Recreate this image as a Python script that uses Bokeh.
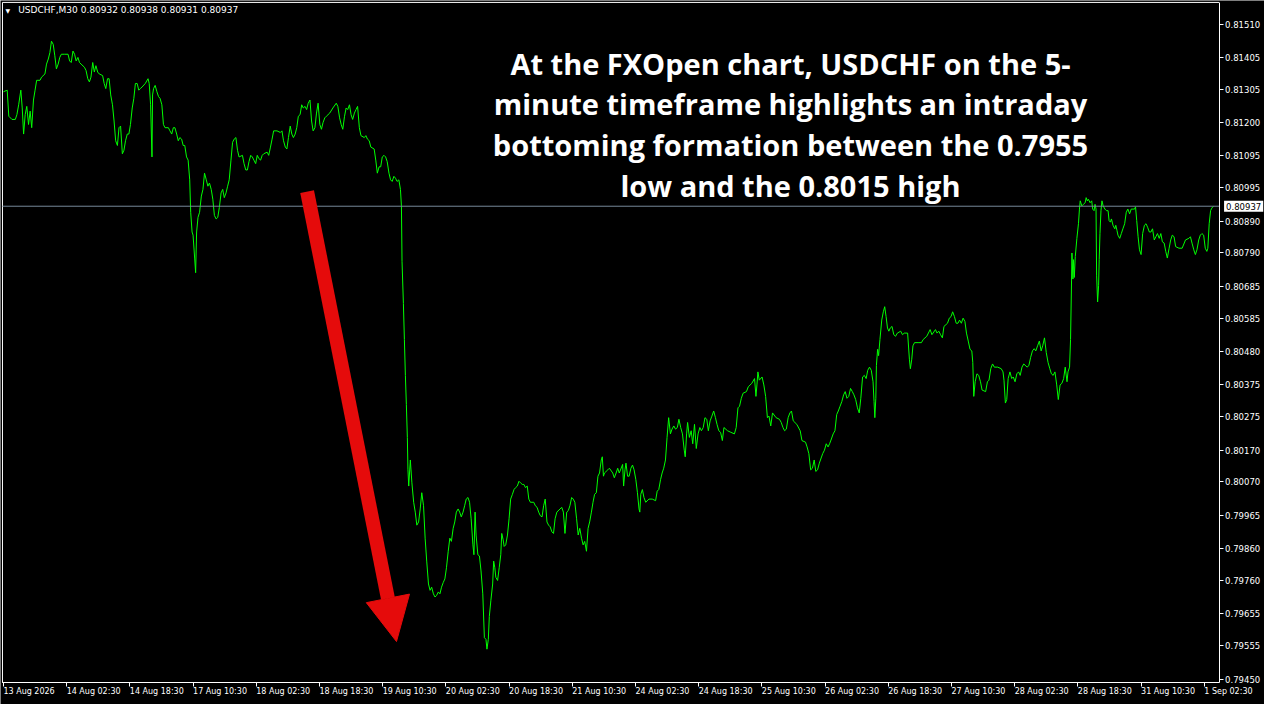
from bokeh.plotting import figure
from bokeh.models import Range1d, FixedTicker, Label, Arrow, NormalHead, ColumnDataSource, PrintfTickFormatter, LinearAxis
from bokeh.embed import file_html
from bokeh.resources import INLINE

# ---------------- data ----------------
symbol_header = "USDCHF,M30  0.80932 0.80938 0.80931 0.80937"
last_price = 0.80937

time_labels = ["13 Aug 2026", "14 Aug 02:30", "14 Aug 18:30", "17 Aug 10:30", "18 Aug 02:30",
               "18 Aug 18:30", "19 Aug 10:30", "20 Aug 02:30", "20 Aug 18:30", "21 Aug 10:30",
               "24 Aug 02:30", "24 Aug 18:30", "25 Aug 10:30", "26 Aug 02:30", "26 Aug 18:30",
               "27 Aug 10:30", "28 Aug 02:30", "28 Aug 18:30", "31 Aug 10:30", "1 Sep 02:30"]
bars_per_label = 32

price_ticks = [0.79450, 0.79555, 0.79655, 0.79760, 0.79860, 0.79965, 0.80070, 0.80170, 0.80275,
               0.80375, 0.80480, 0.80585, 0.80685, 0.80790, 0.80890, 0.80995, 0.81095, 0.81200,
               0.81305, 0.81405, 0.81510]

# bar position (M30 bars from the left edge) and close price
bar_pos = [
    0, 1.9, 2.7, 4.3, 6, 6.8, 7.7, 8.8, 9.5, 10.2,
    11, 11.8, 12.7, 13.5, 14.3, 15.2, 16, 16.8, 18.5, 19.3,
    21, 21.8, 22.7, 23.5, 24.3, 25.2, 26, 26.8, 27.7, 28.5,
    29.3, 31, 32.7, 33.5, 34.3, 35.2, 36, 36.8, 37.7, 38.5,
    39.3, 41, 41.8, 42.7, 43.5, 44.3, 45.2, 46, 46.8, 47.7,
    48.5, 50.2, 51, 51.8, 52.7, 53.5, 54.3, 55.2, 56, 56.8,
    57.7, 58.5, 59.3, 60.2, 61, 61.8, 62.7, 63.5, 64.3, 65.2,
    66, 66.8, 67.7, 68.5, 69.3, 70.2, 71.8, 73.2, 73.8, 74.5,
    75.2, 75.5, 76, 76.8, 77.7, 78.5, 79.3, 80.2, 81, 81.8,
    83.5, 84.3, 85.2, 86, 86.8, 87.7, 88.5, 89.3, 90.2, 91,
    91.8, 92.7, 93.5, 94.3, 94.8, 95.5, 96, 96.8, 97.3, 97.8,
    98.5, 99.3, 100.2, 101, 101.8, 102.7, 103.5, 104.3, 105.2, 106,
    106.8, 107.7, 108.5, 109.3, 110.2, 111, 111.8, 112.7, 113.5, 114.3,
    115.2, 116, 116.8, 117.7, 118.5, 119.3, 121, 121.8, 122.7, 123.5,
    124.3, 125.2, 126, 126.8, 127.7, 128.5, 129.3, 130.2, 131, 131.8,
    133.5, 134.3, 135.2, 136, 136.8, 138.5, 140.2, 141, 141.8, 142.7,
    143.5, 144.3, 145.2, 146, 146.8, 147.7, 148.5, 149.3, 150.2, 151,
    151.8, 152.7, 153.5, 154.3, 155.2, 156, 156.8, 157.7, 158.5, 159.3,
    160.2, 161, 161.8, 162.7, 163.5, 165.2, 166.8, 168.5, 169.3, 170.2,
    171, 171.8, 172.7, 173.5, 174.3, 175.2, 176, 176.8, 177.7, 178.5,
    179.3, 180.2, 181, 182.7, 183.5, 184.3, 185.2, 186, 187.7, 188.5,
    189.3, 190.2, 191, 191.8, 192.7, 193.5, 194.3, 195.2, 196, 196.8,
    197.7, 198.5, 199.3, 200.2, 201, 201.5, 201.8, 202.5, 203, 203.5,
    204, 204.5, 204.8, 205.2, 206, 206.8, 207.7, 208.5, 209.3, 210.2,
    211, 211.8, 212.7, 213.5, 214.3, 215.2, 216, 216.8, 217.7, 218.5,
    219.3, 220.2, 221, 221.8, 222.7, 223.5, 224.3, 225.2, 226, 226.8,
    227.7, 228.5, 229.3, 230.2, 231, 231.8, 232.7, 233.5, 234.3, 235.2,
    236, 236.8, 237.7, 238.2, 238.8, 239.3, 240.2, 241, 241.8, 242.7,
    243.5, 244.3, 244.8, 245.5, 246, 246.8, 247.7, 248.2, 248.8, 249.3,
    250.2, 251, 251.8, 252.3, 253, 253.5, 254.3, 255.2, 256, 256.8,
    257.7, 258.5, 259.3, 260.2, 261, 261.8, 262.7, 263.5, 264.3, 265.2,
    266, 266.8, 268.5, 269.3, 270.2, 271, 271.8, 272.7, 273.5, 274.3,
    275.2, 276, 276.8, 277.7, 278.5, 279.3, 280.2, 281.8, 282.7, 283.5,
    284.3, 285.2, 286, 286.8, 287.7, 288.5, 289.3, 290.2, 291, 291.8,
    292.7, 293.5, 294.3, 295.2, 296, 296.8, 297.7, 298.5, 299.3, 300.2,
    301, 301.8, 302.7, 303.2, 303.8, 304.3, 306, 306.8, 308.5, 309.3,
    310.2, 311, 311.8, 313.5, 314, 314.7, 315.2, 316, 316.8, 317.7,
    318.5, 319.3, 320.2, 321, 321.8, 322.2, 322.7, 323.5, 324.3, 325.2,
    326.8, 328.5, 330.2, 331, 331.8, 332.7, 333.5, 334.3, 335.2, 336,
    336.8, 337.7, 338.5, 339.4, 340.3, 341.2, 342, 342.9, 343.8, 344.7,
    345.2, 345.9, 346.4, 347.3, 348.2, 349, 349.9, 350.8, 351.7, 352.6,
    353.4, 354.3, 355.2, 356.1, 356.9, 357.8, 358.7, 359.6, 360.5, 361.3,
    362.2, 363.1, 364, 364.8, 366.6, 368.3, 370.1, 371, 371.9, 372.7,
    373.6, 374.5, 376.2, 377.1, 378.9, 380.3, 381, 381.5, 382, 382.7,
    384.1, 385, 385.9, 386.8, 387.6, 388.5, 389.4, 391.2, 392.9, 393.8,
    394.7, 395.5, 396.4, 397.3, 398.2, 399, 399.9, 401.7, 403.4, 404.3,
    406.1, 406.9, 407.8, 408.7, 409.6, 410.5, 411.3, 412.2, 413.1, 414.8,
    415.7, 416.6, 417.5, 418.3, 419.2, 420.1, 421, 421.9, 422.7, 423.6,
    424.5, 425.4, 426.2, 427.1, 428, 428.9, 429.8, 430.6, 431.5, 432.4,
    433.3, 434.1, 435, 435.9, 436.8, 437.6, 438.5, 439.4, 440.3, 440.8,
    441.2, 441.7, 442, 442.6, 443.1, 443.8, 444.7, 445.5, 446.2, 446.9,
    447.6, 448.3, 449, 449.9, 450.8, 451.7, 452.6, 454.3, 455.2, 456.1,
    457.8, 458.7, 459.2, 459.9, 460.5, 461.3, 463.1, 464.8, 465.7, 467.5,
    469.2, 470.1, 471.9, 472.7, 473.6, 474.5, 475.4, 476.2, 478, 478.9,
    479.8, 480.6, 481.5, 482.4, 483.3, 484.1, 485, 485.9, 486.8, 487.6,
    488.5, 489.4, 490.3, 490.8, 491.3, 492, 492.9, 493.8, 494.7, 495.5,
    497.3, 498.2, 499, 499.9, 500.8, 501.7, 503.4, 505.2, 506.1, 506.6,
    507.3, 508, 508.7, 509.6, 510.5, 511.3, 512.2, 513.1, 514, 514.8,
    515.7, 516.6, 518.3, 519.2, 520.1, 521, 521.9, 522.7, 523.6, 524.5,
    525.4, 526.2, 527.1, 528, 528.9, 529.8, 530.6, 531.5, 532.4, 533.3,
    534.1, 535, 535.9, 536.8, 537.6, 538.5, 539, 539.8, 540.3, 540.8,
    541, 541.5, 541.8, 542.2, 542.7, 543.5, 544.3, 544.8, 545.2, 546,
    546.8, 547.7, 548.2, 548.8, 549.3, 550.2, 551, 551.5, 552.2, 552.7,
    553.2, 553.5, 554, 554.5, 554.8, 555.2, 555.7, 556.2, 556.8, 557.7,
    558.5, 559.3, 559.8, 560.5, 561, 561.8, 562.7, 563.2, 563.8, 564.3,
    565.2, 566, 566.8, 567.7, 568.5, 569.3, 570.2, 571, 572.7, 573.2,
    573.8, 574.5, 575.2, 576, 576.8, 577.7, 578.5, 579.3, 580.2, 581,
    581.8, 582.7, 583.5, 584.3, 585.2, 586, 586.8, 587.7, 588.5, 589.3,
    590.2, 591, 591.8, 592.7, 593.5, 595.2, 596.8, 598.5, 600.2, 601,
    601.8, 602.7, 603.5, 604.3, 605.2, 606, 606.8, 607.7, 608.5, 609.3,
    609.8, 610.5, 611.2, 611.8, 612.7,
]

close = [
    0.81297, 0.81302, 0.81220, 0.81210, 0.81210, 0.81225, 0.81256, 0.81302, 0.81246, 0.81164,
    0.81225, 0.81251, 0.81194, 0.81236, 0.81184, 0.81271, 0.81302, 0.81333, 0.81333, 0.81343,
    0.81353, 0.81384, 0.81400, 0.81420, 0.81456, 0.81446, 0.81410, 0.81369, 0.81384, 0.81405,
    0.81415, 0.81415, 0.81415, 0.81394, 0.81389, 0.81425, 0.81415, 0.81394, 0.81405, 0.81389,
    0.81384, 0.81374, 0.81364, 0.81338, 0.81328, 0.81343, 0.81389, 0.81359, 0.81379, 0.81359,
    0.81353, 0.81348, 0.81323, 0.81307, 0.81338, 0.81338, 0.81287, 0.81256, 0.81205, 0.81143,
    0.81128, 0.81184, 0.81189, 0.81102, 0.81113, 0.81143, 0.81164, 0.81164, 0.81194, 0.81246,
    0.81276, 0.81323, 0.81323, 0.81302, 0.81307, 0.81312, 0.81323, 0.81338, 0.81323, 0.81256,
    0.81092, 0.81287, 0.81307, 0.81317, 0.81297, 0.81282, 0.81276, 0.81256, 0.81194, 0.81184,
    0.81184, 0.81174, 0.81164, 0.81184, 0.81184, 0.81164, 0.81143, 0.81153, 0.81148, 0.81128,
    0.81128, 0.81092, 0.81082, 0.81020, 0.80918, 0.80856, 0.80846, 0.80774, 0.80728, 0.80856,
    0.80902, 0.80918, 0.80969, 0.80990, 0.81041, 0.81020, 0.81000, 0.81010, 0.80990, 0.80959,
    0.80908, 0.80897, 0.80902, 0.80933, 0.80979, 0.80990, 0.80964, 0.80979, 0.81000, 0.81020,
    0.81082, 0.81138, 0.81148, 0.81153, 0.81113, 0.81092, 0.81097, 0.81071, 0.81051, 0.81051,
    0.81077, 0.81097, 0.81092, 0.81082, 0.81071, 0.81097, 0.81087, 0.81082, 0.81097, 0.81102,
    0.81107, 0.81097, 0.81123, 0.81148, 0.81174, 0.81174, 0.81169, 0.81174, 0.81143, 0.81123,
    0.81117, 0.81153, 0.81189, 0.81164, 0.81153, 0.81164, 0.81184, 0.81220, 0.81225, 0.81256,
    0.81246, 0.81251, 0.81241, 0.81261, 0.81271, 0.81205, 0.81174, 0.81184, 0.81230, 0.81261,
    0.81194, 0.81179, 0.81200, 0.81215, 0.81220, 0.81230, 0.81246, 0.81261, 0.81251, 0.81215,
    0.81194, 0.81179, 0.81220, 0.81246, 0.81241, 0.81256, 0.81225, 0.81210, 0.81230, 0.81241,
    0.81251, 0.81184, 0.81159, 0.81153, 0.81159, 0.81148, 0.81143, 0.81123, 0.81117, 0.81082,
    0.81041, 0.81061, 0.81061, 0.81092, 0.81097, 0.81092, 0.81077, 0.81041, 0.81020, 0.81015,
    0.81031, 0.81025, 0.81015, 0.81020, 0.80990, 0.80938, 0.80764, 0.80631, 0.80518, 0.80405,
    0.80313, 0.80210, 0.80108, 0.80057, 0.80139, 0.80067, 0.80006, 0.79975, 0.79934, 0.79944,
    0.79985, 0.80036, 0.79995, 0.79893, 0.79821, 0.79749, 0.79729, 0.79739, 0.79718, 0.79708,
    0.79713, 0.79724, 0.79718, 0.79739, 0.79754, 0.79765, 0.79800, 0.79852, 0.79893, 0.79883,
    0.79924, 0.79944, 0.79975, 0.79985, 0.79975, 0.79960, 0.79975, 0.79995, 0.80016, 0.80021,
    0.80006, 0.79954, 0.79872, 0.79841, 0.79975, 0.79903, 0.79841, 0.79837, 0.79790, 0.79718,
    0.79580, 0.79575, 0.79544, 0.79575, 0.79647, 0.79698, 0.79749, 0.79821, 0.79800, 0.79770,
    0.79760, 0.79800, 0.79841, 0.79908, 0.79888, 0.79867, 0.79872, 0.79903, 0.79954, 0.80016,
    0.80031, 0.80046, 0.80052, 0.80057, 0.80072, 0.80067, 0.80062, 0.80062, 0.80052, 0.80057,
    0.80016, 0.80006, 0.80006, 0.79995, 0.79990, 0.79975, 0.79964, 0.79960, 0.79995, 0.80016,
    0.79944, 0.79934, 0.79929, 0.79913, 0.79908, 0.79954, 0.79975, 0.79985, 0.79990, 0.79975,
    0.79908, 0.79975, 0.79980, 0.79995, 0.80021, 0.80016, 0.80006, 0.79954, 0.79903, 0.79924,
    0.79893, 0.79872, 0.79883, 0.79852, 0.79924, 0.79944, 0.79975, 0.80006, 0.80031, 0.80036,
    0.80088, 0.80098, 0.80139, 0.80149, 0.80088, 0.80098, 0.80108, 0.80113, 0.80098, 0.80083,
    0.80098, 0.80113, 0.80098, 0.80125, 0.80057, 0.80108, 0.80129, 0.80088, 0.80088, 0.80113,
    0.80123, 0.80108, 0.80077, 0.80036, 0.79985, 0.79975, 0.80031, 0.80046, 0.80021, 0.80006,
    0.80016, 0.80016, 0.80011, 0.80041, 0.80046, 0.80077, 0.80098, 0.80113, 0.80139, 0.80210,
    0.80272, 0.80221, 0.80236, 0.80246, 0.80236, 0.80241, 0.80267, 0.80241, 0.80221, 0.80170,
    0.80149, 0.80221, 0.80257, 0.80210, 0.80231, 0.80190, 0.80251, 0.80175, 0.80221, 0.80241,
    0.80231, 0.80241, 0.80272, 0.80267, 0.80231, 0.80262, 0.80277, 0.80293, 0.80272, 0.80251,
    0.80231, 0.80226, 0.80200, 0.80241, 0.80231, 0.80226, 0.80221, 0.80241, 0.80303, 0.80308,
    0.80333, 0.80349, 0.80354, 0.80369, 0.80380, 0.80395, 0.80339, 0.80375, 0.80416, 0.80390,
    0.80400, 0.80375, 0.80339, 0.80272, 0.80277, 0.80246, 0.80287, 0.80272, 0.80267, 0.80257,
    0.80241, 0.80231, 0.80236, 0.80272, 0.80287, 0.80293, 0.80262, 0.80251, 0.80231, 0.80200,
    0.80195, 0.80180, 0.80159, 0.80108, 0.80113, 0.80139, 0.80103, 0.80108, 0.80129, 0.80159,
    0.80170, 0.80190, 0.80180, 0.80190, 0.80205, 0.80221, 0.80231, 0.80282, 0.80293, 0.80308,
    0.80323, 0.80344, 0.80354, 0.80333, 0.80339, 0.80364, 0.80354, 0.80344, 0.80329, 0.80303,
    0.80287, 0.80333, 0.80400, 0.80405, 0.80395, 0.80421, 0.80431, 0.80421, 0.80385, 0.80323,
    0.80272, 0.80333, 0.80436, 0.80487, 0.80467, 0.80518, 0.80579, 0.80605, 0.80621, 0.80590,
    0.80554, 0.80544, 0.80554, 0.80559, 0.80533, 0.80528, 0.80538, 0.80544, 0.80533, 0.80538,
    0.80538, 0.80456, 0.80426, 0.80456, 0.80498, 0.80508, 0.80508, 0.80508, 0.80518, 0.80528,
    0.80549, 0.80533, 0.80549, 0.80538, 0.80544, 0.80533, 0.80523, 0.80559, 0.80569, 0.80585,
    0.80590, 0.80605, 0.80590, 0.80569, 0.80569, 0.80579, 0.80569, 0.80585, 0.80575, 0.80538,
    0.80513, 0.80487, 0.80482, 0.80446, 0.80339, 0.80385, 0.80410, 0.80405, 0.80385, 0.80359,
    0.80354, 0.80385, 0.80390, 0.80426, 0.80441, 0.80431, 0.80431, 0.80426, 0.80416, 0.80390,
    0.80318, 0.80329, 0.80395, 0.80416, 0.80395, 0.80400, 0.80385, 0.80410, 0.80416, 0.80405,
    0.80431, 0.80441, 0.80431, 0.80436, 0.80462, 0.80482, 0.80489, 0.80482, 0.80498, 0.80513,
    0.80482, 0.80498, 0.80523, 0.80477, 0.80446, 0.80426, 0.80410, 0.80405, 0.80416, 0.80375,
    0.80329, 0.80375, 0.80380, 0.80395, 0.80431, 0.80385, 0.80416, 0.80431, 0.80518, 0.80702,
    0.80790, 0.80708, 0.80769, 0.80713, 0.80779, 0.80836, 0.80882, 0.80928, 0.80954, 0.80938,
    0.80943, 0.80948, 0.80964, 0.80954, 0.80959, 0.80948, 0.80954, 0.80928, 0.80923, 0.80943,
    0.80928, 0.80718, 0.80636, 0.80687, 0.80769, 0.80851, 0.80923, 0.80954, 0.80938, 0.80928,
    0.80923, 0.80923, 0.80892, 0.80887, 0.80897, 0.80877, 0.80866, 0.80877, 0.80861, 0.80846,
    0.80836, 0.80851, 0.80866, 0.80882, 0.80918, 0.80928, 0.80913, 0.80928, 0.80928, 0.80935,
    0.80892, 0.80841, 0.80800, 0.80785, 0.80851, 0.80877, 0.80882, 0.80871, 0.80856, 0.80856,
    0.80866, 0.80831, 0.80841, 0.80851, 0.80836, 0.80851, 0.80825, 0.80821, 0.80795, 0.80774,
    0.80805, 0.80831, 0.80846, 0.80841, 0.80810, 0.80805, 0.80805, 0.80831, 0.80836, 0.80841,
    0.80821, 0.80800, 0.80785, 0.80800, 0.80831, 0.80846, 0.80851, 0.80846, 0.80805, 0.80795,
    0.80805, 0.80882, 0.80923, 0.80931, 0.80937,
]

note_lines = ["At the FXOpen chart, USDCHF on the 5-",
              "minute timeframe highlights an intraday",
              "bottoming formation between the 0.7955",
              "low and the 0.8015 high"]

# ---------------- layout / styling ----------------
GREEN = "#00FF00"
RED = "#E50B0B"
PRICE_LINE = "#778899"
AX_FONT = "DejaVu Sans"
X_FONT_PX = 8
W, H = 1264, 704

# whole canvas is the plotting frame; the chart box sits inside it
X_LO, X_HI = -1.5, 638.5          # canvas extent in bar units
Y_LO, Y_HI = 0.79370, 0.81584     # canvas extent in price units
BOX_L, BOX_R = -0.5, 615.5        # chart box edges (bars)
BOX_B, BOX_T = 0.79438, 0.81578   # chart box edges (price)

p = figure(width=W, height=H, output_backend="svg", toolbar_location=None,
           x_range=Range1d(X_LO, X_HI), y_range=Range1d(Y_LO, Y_HI),
           y_axis_location="right",
           background_fill_color="black", border_fill_color="black",
           outline_line_color=None,
           min_border_left=0, min_border_top=0, min_border_right=0, min_border_bottom=0)
p.grid.visible = False

# price axis (right edge of the chart box)
ya = p.yaxis[0]
ya.fixed_location = BOX_R
ya.bounds = (BOX_B, BOX_T)
ya.ticker = FixedTicker(ticks=price_ticks, minor_ticks=[])
ya.formatter = PrintfTickFormatter(format="%.5f")
ya.axis_line_color = "white"
ya.major_tick_line_color = "white"
ya.major_tick_out = 4
ya.major_tick_in = 0
ya.minor_tick_line_color = None
ya.major_label_text_color = "white"
ya.major_label_text_font = AX_FONT
ya.major_label_text_font_size = "8.5px"
ya.major_label_standoff = 2

# time axis: tick marks at the bar positions ...
x_ticks = [bars_per_label * i for i in range(len(time_labels))]
xa = p.xaxis[0]
xa.fixed_location = BOX_B
xa.bounds = (BOX_L, BOX_R)
xa.ticker = FixedTicker(ticks=x_ticks, minor_ticks=[])
xa.axis_line_color = "white"
xa.major_tick_line_color = "white"
xa.major_tick_out = 4
xa.major_tick_in = 0
xa.minor_tick_line_color = None
xa.major_label_text_color = None

# ... and MT4-style labels that start at each tick (label axis, no marks)
DV_W = {**{d: 0.636 for d in "0123456789"}, " ": 0.318, ":": 0.337, "A": 0.684,
        "u": 0.634, "g": 0.635, "S": 0.635, "e": 0.615, "p": 0.635}
px_per_bar = W / (X_HI - X_LO)
label_ticks = [round(t + (sum(DV_W.get(c, 0.6) for c in lab) * X_FONT_PX / 2) / px_per_bar, 2)
               for t, lab in zip(x_ticks, time_labels)]
lx = LinearAxis(fixed_location=BOX_B,
                ticker=FixedTicker(ticks=label_ticks, minor_ticks=[]),
                major_label_overrides={lt: lab for lt, lab in zip(label_ticks, time_labels)},
                axis_line_color=None, major_tick_line_color=None, minor_tick_line_color=None,
                major_tick_out=0, major_tick_in=0, major_label_standoff=4,
                major_label_text_color="white", major_label_text_font=AX_FONT,
                major_label_text_font_size=f"{X_FONT_PX}px")
p.add_layout(lx, "below")

# left and top edges of the chart box
p.segment(x0=[BOX_L, BOX_L], y0=[BOX_B, BOX_T], x1=[BOX_L, BOX_R], y1=[BOX_T, BOX_T],
          line_color="white", line_width=1)

# price series
src = ColumnDataSource(data=dict(bar=bar_pos, close=close))
p.line("bar", "close", source=src, line_color=GREEN, line_width=1)

# last price line + tag on the axis
p.segment(x0=[BOX_L], y0=[last_price], x1=[BOX_R], y1=[last_price],
          line_color=PRICE_LINE, line_width=1)
p.add_layout(Label(x=BOX_R, y=last_price, x_offset=5, text=f"{last_price:.5f}",
                   text_baseline="middle", text_align="left", text_color="black",
                   text_font=AX_FONT, text_font_size="8.5px",
                   background_fill_color="white", padding=2))

# header
p.add_layout(Label(x=1, y=BOX_T, y_offset=-5, text="\u25BC", text_baseline="top",
                   text_color="white", text_font=AX_FONT, text_font_size="6px"))
p.add_layout(Label(x=7.5, y=BOX_T, y_offset=-3, text=symbol_header, text_baseline="top",
                   text_color="white", text_font=AX_FONT, text_font_size="9px"))

# annotation text
note_y = [0.81387, 0.81259, 0.81131, 0.81003]
for line_txt, ly in zip(note_lines, note_y):
    p.add_layout(Label(x=398.5, y=ly, text=line_txt, text_align="center",
                       text_baseline="middle", text_color="white", text_font="Open Sans",
                       text_font_style="bold", text_font_size="29px"))

# red arrow
p.add_layout(Arrow(end=NormalHead(size=44, fill_color=RED, line_color=RED, line_width=1),
                   x_start=153.75, y_start=0.80983, x_end=199, y_end=0.79568,
                   line_color=RED, line_width=14))

open("out.html", "w").write(file_html(p, INLINE))
